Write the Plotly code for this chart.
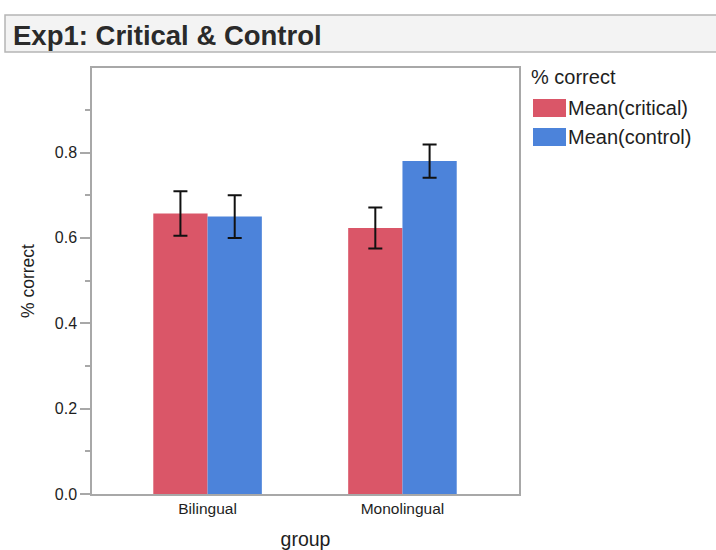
import plotly.graph_objects as go

# Data
groups = ["Bilingual", "Monolingual"]
series_names = ["Mean(critical)", "Mean(control)"]
critical_mean = [0.657, 0.623]
critical_err = [0.052, 0.048]
control_mean = [0.650, 0.780]
control_err = [0.050, 0.039]
series_colors = ["#DA5668", "#4C83DA"]

W, H = 716, 550
L, R, T, B = 92, 519, 68, 494  # plot area in pixels
pw, ph = R - L, B - T
FONT = "Liberation Sans, Arial, sans-serif"


def px(x):
    return (x - L) / pw


def py(y):
    return (B - y) / ph


fig = go.Figure()
for name, means, errs, col in zip(series_names, [critical_mean, control_mean],
                                  [critical_err, control_err], series_colors):
    fig.add_trace(go.Bar(
        x=groups, y=means, name=name,
        marker=dict(color=col, line=dict(width=0)),
        error_y=dict(type="data", array=errs, visible=True,
                     color="#111111", thickness=2, width=7),
        showlegend=False,
    ))

fig.update_layout(
    width=W, height=H,
    margin=dict(l=L, r=W - R, t=T, b=H - B),
    paper_bgcolor="white", plot_bgcolor="white",
    barmode="group", bargap=0.443, bargroupgap=0,
    font=dict(family=FONT, color="#1E1E1E"),
)

fig.update_xaxes(
    range=[-0.593, 1.598], automargin=False,
    showline=True, linecolor="#A8A8A8", linewidth=1.5, mirror=True,
    ticks="", showgrid=False, zeroline=False,
    tickfont=dict(size=15.5, color="#1E1E1E"),
    title=dict(text="group", font=dict(size=19.5, color="#1E1E1E"), standoff=18),
)
fig.update_yaxes(
    range=[0, 0.998], automargin=False,
    tickvals=[0, 0.2, 0.4, 0.6, 0.8],
    ticktext=["0.0", "0.2", "0.4", "0.6", "0.8"],
    ticks="outside", ticklen=10, tickcolor="#A8A8A8", tickwidth=1.5,
    minor=dict(tickvals=[0.1, 0.3, 0.5, 0.7, 0.9], ticks="outside",
               ticklen=5, tickcolor="#A8A8A8", tickwidth=1.5, showgrid=False),
    showline=True, linecolor="#A8A8A8", linewidth=1.5, mirror=True,
    showgrid=False, zeroline=False,
    tickfont=dict(size=16, color="#1E1E1E"),
    title=dict(text="% correct", font=dict(size=17.5, color="#1E1E1E"), standoff=16),
)

shapes = []
annotations = []

# Title bar
shapes.append(dict(type="rect", xref="paper", yref="paper",
                   x0=px(5), x1=px(718), y0=py(52), y1=py(15),
                   fillcolor="#F3F3F3", line=dict(color="#B5B5B5", width=1.5),
                   layer="below"))
annotations.append(dict(xref="paper", yref="paper", x=px(11), y=py(35),
                        xanchor="left", yanchor="middle", showarrow=False,
                        text="<b>Exp1: Critical &amp; Control</b>",
                        font=dict(size=27.5, color="#2A2A2A", family=FONT)))

# Legend
annotations.append(dict(xref="paper", yref="paper", x=px(529), y=py(77),
                        xanchor="left", yanchor="middle", showarrow=False,
                        text="% correct", font=dict(size=20, color="#1E1E1E")))
for i, (name, col) in enumerate(zip(series_names, series_colors)):
    yc = 108 + i * 29
    shapes.append(dict(type="rect", xref="paper", yref="paper",
                       x0=px(533), x1=px(566), y0=py(yc + 9), y1=py(yc - 9),
                       fillcolor=col, line=dict(width=0)))
    annotations.append(dict(xref="paper", yref="paper", x=px(566), y=py(yc),
                            xanchor="left", yanchor="middle", showarrow=False,
                            text=name, font=dict(size=20, color="#1E1E1E")))

fig.update_layout(shapes=shapes, annotations=annotations)

fig.write_html("out.html")
